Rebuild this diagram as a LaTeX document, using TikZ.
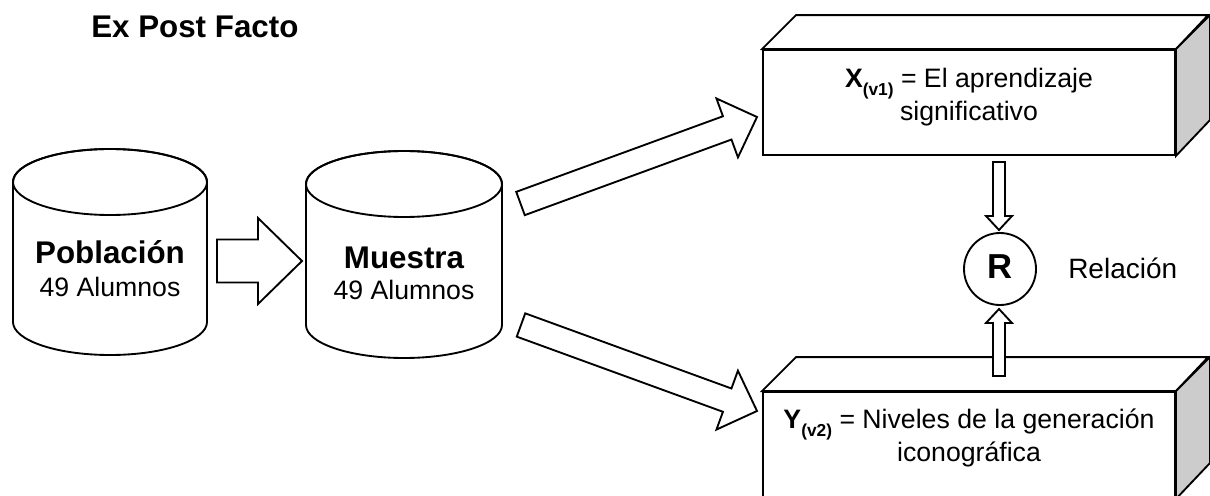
\documentclass[tikz,border=0pt]{standalone}
\usepackage{fontspec}
\setmainfont{Liberation Sans}
\usetikzlibrary{calc}
\tikzset{
  ln/.style={line width=1.4pt, line join=miter},
  blk/.style={ln, draw=black, fill=white},
  face/.style={ln, draw=black, fill=white},
  sideface/.style={ln, draw=black, fill=gray!40},
  txt/.style={inner sep=0pt, anchor=base},
}
\newcommand{\blockarr}[5]{%
  \coordinate (ba-c) at ($(#2)!#5!(#1)$);
  \draw[blk] ($(#1)!#3!90:(#2)$) -- ($(ba-c)!#3!90:(#2)$) -- ($(ba-c)!#4!90:(#2)$) -- (#2)
    -- ($(ba-c)!#4!-90:(#2)$) -- ($(ba-c)!#3!-90:(#2)$) -- ($(#1)!#3!-90:(#2)$) -- cycle;}
\newcommand{\subsc}[1]{\raisebox{-0.32em}{\fontsize{13}{13}\selectfont\bfseries #1}}
\begin{document}
\begin{tikzpicture}[x=0.75pt,y=-0.75pt]
\path[use as bounding box, clip] (0,0) rectangle (1210,496);
\fill[white] (0,0) rectangle (1210,496);

% title
\node[txt, anchor=base west] (title) at (91,37) {\fontsize{23.5}{28}\selectfont\bfseries Ex Post Facto};

% cylinder Poblacion
\draw[face] (13,182) -- (13,322) arc[start angle=180,end angle=0,x radius=97,y radius=33]
  -- (207,182) arc[start angle=0,end angle=-180,x radius=97,y radius=33] -- cycle;
\draw[ln] (110,182) ellipse [x radius=97, y radius=33];
\node[txt] (pob) at (110,263) {\fontsize{23.5}{28}\selectfont\bfseries Población};
\node[txt] (pobn) at (110,296) {\fontsize{20}{24}\selectfont 49 Alumnos};

% cylinder Muestra
\draw[face] (306,184) -- (306,325) arc[start angle=180,end angle=0,x radius=98,y radius=33]
  -- (502,184) arc[start angle=0,end angle=-180,x radius=98,y radius=33] -- cycle;
\draw[ln] (404,184) ellipse [x radius=98, y radius=33];
\node[txt] (mue) at (404,268) {\fontsize{23.5}{28}\selectfont\bfseries Muestra};
\node[txt] (muen) at (404,299) {\fontsize{20}{24}\selectfont 49 Alumnos};

% top 3D box
\node[ln, draw, fill=white, minimum width=309pt, minimum height=78.75pt, inner sep=0pt] (xbox) at (969,102.5) {};
\draw[face] (xbox.north west) -- ++(34,-34) -- ++(412,0) -- (xbox.north east) -- cycle;
\draw[sideface] (xbox.north east) -- ++(34,-34) -- ++(0,105) -- (xbox.south east) -- cycle;
\node[txt] (xl1) at (969,87) {\fontsize{20}{24}\selectfont\textbf{X}\subsc{(v1)} = El aprendizaje};
\node[txt] (xl2) at (969,120) {\fontsize{20}{24}\selectfont significativo};

% bottom 3D box
\node[ln, draw, fill=white, minimum width=309pt, minimum height=79.5pt, inner sep=0pt] (ybox) at (969,445) {};
\draw[face] (ybox.north west) -- ++(34,-34) -- ++(412,0) -- (ybox.north east) -- cycle;
\draw[sideface] (ybox.north east) -- ++(34,-34) -- ++(0,106) -- (ybox.south east) -- cycle;
\node[txt] (yl1) at (969,428) {\fontsize{20}{24}\selectfont\textbf{Y}\subsc{(v2)} = Niveles de la generación};
\node[txt] (yl2) at (969,461.5) {\fontsize{20}{24}\selectfont iconográfica};

% relation circle
\node[ln, draw, circle, fill=white, minimum size=54pt, inner sep=0pt] (R) at (1000,269) {};
\node[txt] (Rt) at (1000,278) {\fontsize{26}{30}\selectfont\bfseries R};
\node[txt, anchor=base west] (rel) at (1068,278) {\fontsize{21}{25}\selectfont Relación};

% connector end points
\coordinate (a0s) at (217,261);
\coordinate (a0e) at (302,261);
\coordinate (a1s) at (520.5,203.5);
\coordinate (a1e) at (757,117);
\coordinate (a2s) at (521,325);
\coordinate (a2e) at (757,411);
\coordinate (a3s) at (999,162);
\coordinate (a3e) at (999,230);
\coordinate (a4s) at (999,376);
\coordinate (a4e) at (999,309);

\blockarr{a0s}{a0e}{16.1pt}{32.25pt}{33pt}
\blockarr{a1s}{a1e}{9.3pt}{23.5pt}{23.8pt}
\blockarr{a2s}{a2e}{9.3pt}{23.5pt}{23.8pt}
\blockarr{a3s}{a3e}{4.5pt}{9.75pt}{10.5pt}
\blockarr{a4s}{a4e}{4.5pt}{9.75pt}{10.5pt}
\end{tikzpicture}
\end{document}
